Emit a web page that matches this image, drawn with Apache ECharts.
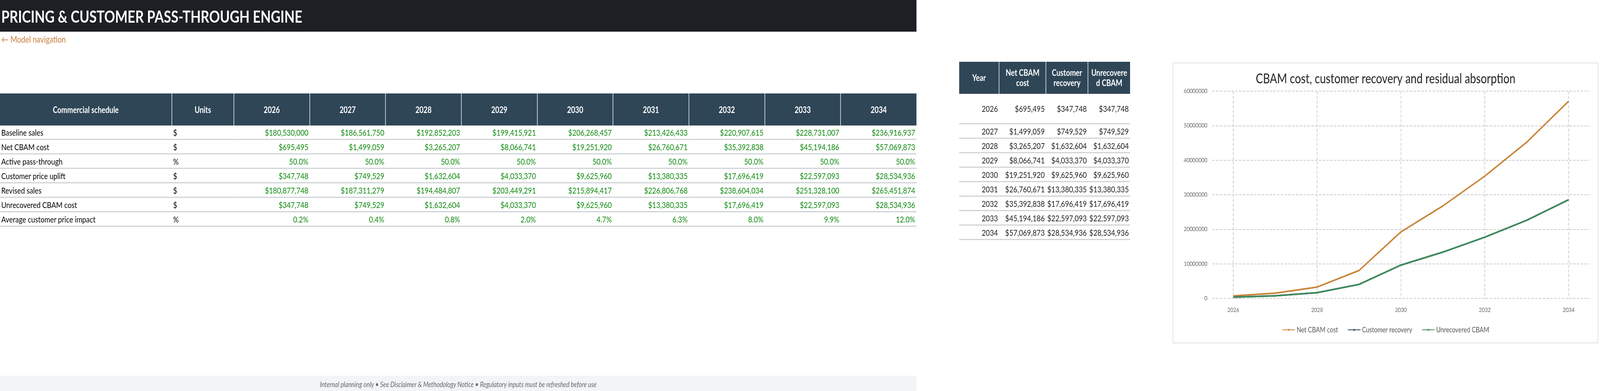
<!DOCTYPE html>
<html>
<head>
<meta charset="utf-8">
<title>Pricing & customer pass-through engine</title>
<script src="https://cdn.jsdelivr.net/npm/echarts@6/dist/echarts.min.js"></script>
<style>
    html,body{margin:0;padding:0;overflow:hidden;background:#fff;}
    #page{width:5056px;height:1000px;position:relative;font-family:Lato,"Noto Sans",sans-serif;transform-origin:0 0;}
    .topbar{position:absolute;left:0;top:0;width:2896px;height:81px;background:#1c1f24;color:#fff;font-weight:bold;font-size:42px;line-height:84px;padding-left:4px;box-sizing:border-box;}
    .nav{position:absolute;left:4px;top:86px;color:#c97d35;font-size:23px;}
    table{border-collapse:collapse;position:absolute;font-size:22px;}
    th{background:#2f4657;color:#fff;font-weight:bold;border-left:2px solid #dfe3e6;}
    th:first-child{border-left:none;}
    td{border-bottom:3px solid #d0d4d8;height:34px;padding:0 4px;}
    #main{left:0;top:239px;width:2896px;}
    #main th{height:80px;}
    #main td.v{text-align:right;color:#108a10;}
    #side{left:3031px;top:158px;width:540px;}
    #side th{height:80px;line-height:26px;}
    #side td{text-align:right;color:#222;}
    #side tr.first td{height:75px;}
    .footer{position:absolute;left:0;top:961px;width:2896px;height:39px;background:#f3f4f6;color:#666;font-style:italic;font-size:19px;text-align:center;line-height:44px;}
    #chart{position:absolute;left:3706px;top:160px;width:1345px;height:718px;border:2px solid #e0e0e0;box-sizing:border-box;}
</style>
</head>
<body>
<div id="page">
<div class="topbar">PRICING &amp; CUSTOMER PASS-THROUGH ENGINE</div>
<div class="nav">&larr; Model navigation</div>
<table id="main"></table>
<table id="side"></table>
<div class="footer">Internal planning only &bull; See Disclaimer &amp; Methodology Notice &bull; Regulatory inputs must be refreshed before use</div>
<div id="chart"></div>
</div>

<script type="text/javascript">
    // 数据
    var years = [2026, 2027, 2028, 2029, 2030, 2031, 2032, 2033, 2034];
    var baselineSales = [180530000, 186561750, 192852203, 199415921, 206268457, 213426433, 220907615, 228731007, 236916937];
    var netCbam = [695495, 1499059, 3265207, 8066741, 19251920, 26760671, 35392838, 45194186, 57069873];
    var passThrough = [0.5, 0.5, 0.5, 0.5, 0.5, 0.5, 0.5, 0.5, 0.5];
    var customerRecovery = [347748, 749529, 1632604, 4033370, 9625960, 13380335, 17696419, 22597093, 28534936];
    var revisedSales = [180877748, 187311279, 194484807, 203449291, 215894417, 226806768, 238604034, 251328100, 265451874];
    var unrecovered = [347748, 749529, 1632604, 4033370, 9625960, 13380335, 17696419, 22597093, 28534936];
    var priceImpact = [0.002, 0.004, 0.008, 0.020, 0.047, 0.063, 0.080, 0.099, 0.120];

    // 按窗口宽度缩放整页
    var sx = window.innerWidth / 5056, sy = window.innerHeight / 1000;
    if (sx > 0 && sy > 0 && (Math.abs(sx - 1) > 0.01 || Math.abs(sy - 1) > 0.01)) {
        document.getElementById('page').style.transform = 'scale(' + sx + ',' + sy + ')';
    }

    function money(v){ return '$' + v.toLocaleString('en-US'); }
    function pct(v){ return (v * 100).toFixed(1) + '%'; }

    // 主表
    var rows = [
        ['Baseline sales', '$', baselineSales, money],
        ['Net CBAM cost', '$', netCbam, money],
        ['Active pass-through', '%', passThrough, pct],
        ['Customer price uplift', '$', customerRecovery, money],
        ['Revised sales', '$', revisedSales, money],
        ['Unrecovered CBAM cost', '$', unrecovered, money],
        ['Average customer price impact', '%', priceImpact, pct]
    ];
    var html = '<tr><th style="width:540px">Commercial schedule</th><th style="width:192px">Units</th>';
    years.forEach(function(y){ html += '<th>' + y + '</th>'; });
    html += '</tr>';
    rows.forEach(function(r){
        html += '<tr><td>' + r[0] + '</td><td>' + r[1] + '</td>';
        r[2].forEach(function(v){ html += '<td class="v">' + r[3](v) + '</td>'; });
        html += '</tr>';
    });
    document.getElementById('main').innerHTML = html;

    // 侧表
    var s = '<tr><th style="width:128px">Year</th><th style="width:145px">Net CBAM<br>cost</th><th style="width:126px">Customer<br>recovery</th><th>Unrecovere<br>d CBAM</th></tr>';
    years.forEach(function(y, i){
        s += '<tr' + (i === 0 ? ' class="first"' : '') + '><td>' + y + '</td><td>' + money(netCbam[i]) + '</td><td>' + money(customerRecovery[i]) + '</td><td>' + money(unrecovered[i]) + '</td></tr>';
    });
    document.getElementById('side').innerHTML = s;

    // 图表
    var myChart = echarts.init(document.getElementById('chart'));
    function pairs(arr){ return years.map(function(y, i){ return [y, arr[i]]; }); }
    myChart.setOption({
        animation: false,
        textStyle: {fontFamily: 'Lato'},
        title: {
            text: 'CBAM cost, customer recovery and residual absorption',
            left: 'center', top: 18,
            textStyle: {fontSize: 34, fontWeight: 'normal', color: '#222'}
        },
        legend: {
            bottom: 18, itemWidth: 40, itemHeight: 4, itemGap: 30,
            textStyle: {fontSize: 19, color: '#555'},
            data: ['Net CBAM cost', 'Customer recovery', 'Unrecovered CBAM']
        },
        grid: {left: 123, right: 26, top: 71, bottom: 113},
        xAxis: {
            type: 'value', min: 2025.5, max: 2034.5,
            axisLine: {show: false}, axisTick: {show: false},
            axisLabel: {fontSize: 16, color: '#666', margin: 22, showMinLabel: false, showMaxLabel: false,
                formatter: function(v){ return v % 1 === 0 ? String(v) : ''; }},
            splitLine: {show: true, showMinLine: false, showMaxLine: false, lineStyle: {type: 'dashed', color: '#ccc', width: 2}}
        },
        yAxis: {
            type: 'value', min: 0, max: 60000000, interval: 10000000,
            axisLine: {show: false}, axisTick: {show: false},
            axisLabel: {fontSize: 16, color: '#666', margin: 16, formatter: function(v){ return String(v); }},
            splitLine: {lineStyle: {type: 'dashed', color: '#ccc', width: 2}}
        },
        series: [
            {name: 'Net CBAM cost', type: 'line', data: pairs(netCbam), showSymbol: false, lineStyle: {width: 4}, itemStyle: {color: '#c98235'}},
            {name: 'Customer recovery', type: 'line', data: pairs(customerRecovery), showSymbol: false, lineStyle: {width: 4}, itemStyle: {color: '#2f4657'}},
            {name: 'Unrecovered CBAM', type: 'line', data: pairs(unrecovered), showSymbol: false, lineStyle: {width: 4}, itemStyle: {color: '#3b8b5c'}}
        ]
    });
</script>
</body>
</html>
